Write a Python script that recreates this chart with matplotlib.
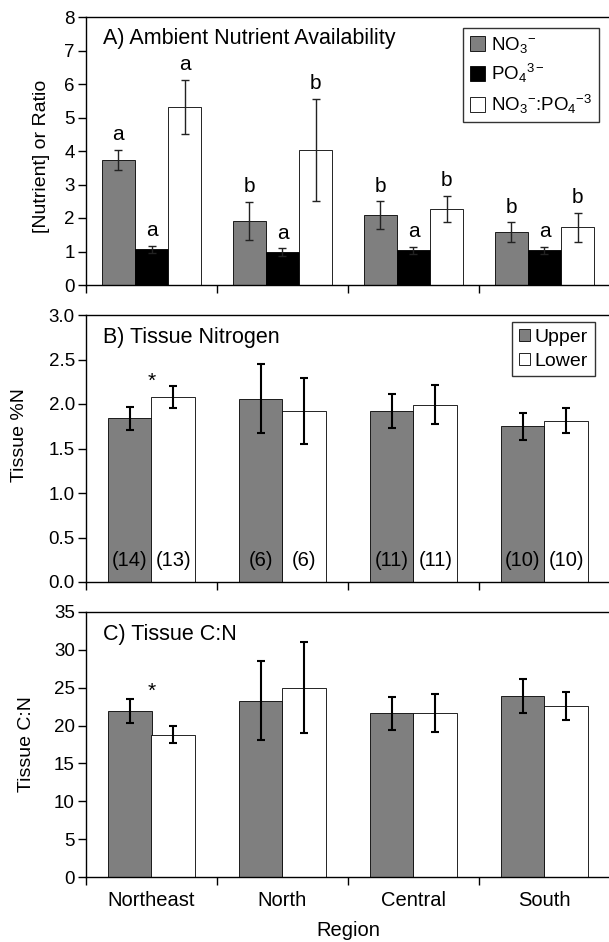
import matplotlib
matplotlib.use("Agg")
import matplotlib.pyplot as plt
import numpy as np

plt.rcParams['font.family'] = ['Liberation Sans', 'DejaVu Sans']
plt.rcParams['mathtext.fontset'] = 'custom'
plt.rcParams['mathtext.rm'] = 'Liberation Sans'
plt.rcParams['mathtext.it'] = 'Liberation Sans'
plt.rcParams['mathtext.default'] = 'rm'

regions = ["Northeast", "North", "Central", "South"]

# Panel A
no3 = [3.73, 1.91, 2.09, 1.57]
no3_err = [0.30, 0.57, 0.41, 0.30]
po4 = [1.06, 0.98, 1.03, 1.03]
po4_err = [0.11, 0.11, 0.10, 0.10]
ratio = [5.32, 4.03, 2.27, 1.72]
ratio_err = [0.80, 1.52, 0.40, 0.43]
letters_no3 = ["a", "b", "b", "b"]
letters_po4 = ["a", "a", "a", "a"]
letters_ratio = ["a", "b", "b", "b"]

# Panel B
n_upper = [1.84, 2.06, 1.92, 1.75]
n_upper_err = [0.13, 0.39, 0.19, 0.15]
n_lower = [2.08, 1.92, 1.99, 1.81]
n_lower_err = [0.12, 0.37, 0.22, 0.14]
count_upper = ["(14)", "(6)", "(11)", "(10)"]
count_lower = ["(13)", "(6)", "(11)", "(10)"]

# Panel C
cn_upper = [21.9, 23.3, 21.6, 23.9]
cn_upper_err = [1.55, 5.2, 2.2, 2.2]
cn_lower = [18.8, 25.0, 21.7, 22.6]
cn_lower_err = [1.15, 6.0, 2.5, 1.9]

W, H = 609, 942
fig = plt.figure(figsize=(W/100, H/100), dpi=100)
LEFT, RIGHT = 86, 610

def make_ax(top, bottom):
    return fig.add_axes([LEFT/W, 1 - bottom/H, (RIGHT-LEFT)/W, (bottom-top)/H])

axA = make_ax(17, 285)
axB = make_ax(315, 582)
axC = make_ax(612, 877)

gray = '#7f7f7f'
x = np.arange(len(regions)) + 0.5

def style(ax, ylim, yticks, fmt, ylabel, label_x, label_y=0.5):
    ax.set_xlim(0, 4)
    ax.set_ylim(*ylim)
    ax.set_yticks(yticks)
    ax.set_yticklabels([fmt.format(v) for v in yticks], fontsize=13.5)
    ax.set_xticks([0, 1, 2, 3, 4])
    ax.set_xticklabels([])
    ax.set_xticks(x, minor=True)
    ax.tick_params(axis='x', which='major', direction='out', length=6, width=1)
    ax.tick_params(axis='x', which='minor', length=0, labelsize=14.5, pad=10)
    ax.tick_params(axis='y', direction='out', length=6, width=1, pad=2)
    ax.set_ylabel(ylabel, fontsize=14)
    ax.yaxis.set_label_coords((label_x - LEFT) / (RIGHT - LEFT), label_y)
    for s in ax.spines.values():
        s.set_linewidth(1.0)

# Panel A
bw = 0.253
ekA = dict(ecolor='#222222', elinewidth=1.0, capsize=3, capthick=1.0)
axA.bar(x - bw, no3, bw, yerr=no3_err, color=gray, edgecolor='black', linewidth=0.6,
        error_kw=ekA, label='NO$_3$$^{-}$')
axA.bar(x, po4, bw, yerr=po4_err, color='black', edgecolor='black', linewidth=0.6,
        error_kw=ekA, label='PO$_4$$^{3-}$')
axA.bar(x + bw, ratio, bw, yerr=ratio_err, color='white', edgecolor='black', linewidth=0.6,
        error_kw=ekA, label='NO$_3$$^{-}$:PO$_4$$^{-3}$')
for i in range(4):
    for off, vals, errs, lets in [(-bw, no3, no3_err, letters_no3),
                                  (0, po4, po4_err, letters_po4),
                                  (bw, ratio, ratio_err, letters_ratio)]:
        axA.text(x[i] + off, vals[i] + errs[i] + 0.17, lets[i], ha='center', va='bottom', fontsize=15)
style(axA, (0, 8), list(range(0, 9)), "{:d}", "[Nutrient] or Ratio", 50, 0.48)
axA.text(0.13, 7.35, "A) Ambient Nutrient Availability", fontsize=15.5, va='center')
legA = axA.legend(loc='upper left', bbox_to_anchor=((463 - LEFT) / (RIGHT - LEFT), (285 - 28) / 268),
                  fontsize=13.5, frameon=True,
                  fancybox=False, edgecolor='black', handlelength=0.85, handleheight=0.85,
                  handletextpad=0.3, borderpad=0.35, labelspacing=0.4, borderaxespad=0)
legA.get_frame().set_linewidth(1.0)

# Panel B
bw2 = 0.333
ek = dict(ecolor='black', elinewidth=1.5, capsize=3, capthick=1.5)
axB.bar(x - bw2/2, n_upper, bw2, yerr=n_upper_err, color=gray, edgecolor='black', linewidth=0.6,
        error_kw=ek, label='Upper')
axB.bar(x + bw2/2, n_lower, bw2, yerr=n_lower_err, color='white', edgecolor='black', linewidth=0.6,
        error_kw=ek, label='Lower')
for i in range(4):
    axB.text(x[i] - bw2/2, 0.24, count_upper[i], ha='center', va='center', fontsize=14.5)
    axB.text(x[i] + bw2/2, 0.24, count_lower[i], ha='center', va='center', fontsize=14.5)
axB.text(x[0], 2.25, "*", ha='center', va='center', fontsize=15)
style(axB, (0, 3.0), [0, 0.5, 1.0, 1.5, 2.0, 2.5, 3.0], "{:.1f}", "Tissue %N", 28, 0.55)
axB.text(0.13, 2.75, "B) Tissue Nitrogen", fontsize=15.5, va='center')
legB = axB.legend(loc='upper left', bbox_to_anchor=((512 - LEFT) / (RIGHT - LEFT), (582 - 322) / 267),
                  fontsize=14, frameon=True,
                  fancybox=False, edgecolor='black', handlelength=0.6, handleheight=0.6,
                  handletextpad=0.2, borderpad=0.35, labelspacing=0.35, borderaxespad=0)
legB.get_frame().set_linewidth(1.0)

# Panel C
axC.bar(x - bw2/2, cn_upper, bw2, yerr=cn_upper_err, color=gray, edgecolor='black', linewidth=0.6,
        error_kw=ek)
axC.bar(x + bw2/2, cn_lower, bw2, yerr=cn_lower_err, color='white', edgecolor='black', linewidth=0.6,
        error_kw=ek)
axC.text(x[0], 24.5, "*", ha='center', va='center', fontsize=15)
style(axC, (0, 35), [0, 5, 10, 15, 20, 25, 30, 35], "{:d}", "Tissue C:N", 35, 0.5)
axC.text(0.13, 32.0, "C) Tissue C:N", fontsize=15.5, va='center')
axC.set_xticklabels(regions, minor=True)
axC.set_xlabel("Region", fontsize=14.5, labelpad=8)

fig.savefig("out.png", dpi=100)
